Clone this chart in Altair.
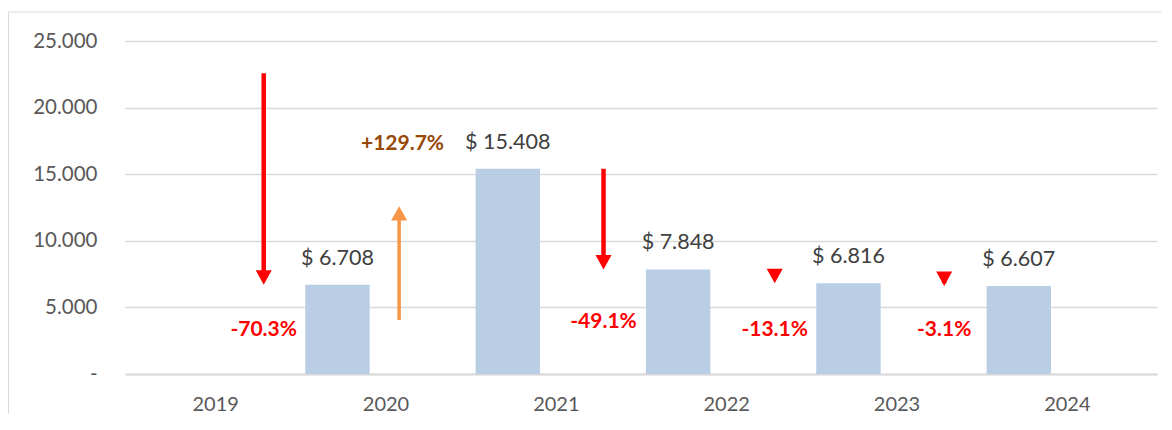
import altair as alt
import pandas as pd

# ---------------- data ----------------
years = [2019, 2020, 2021, 2022, 2023, 2024]
bar_years = [2020, 2021, 2022, 2023, 2024]
bar_values = [6708, 15408, 7848, 6816, 6607]
value_labels = ["$ 6.708", "$ 15.408", "$ 7.848", "$ 6.816", "$ 6.607"]

arrow_x = [2019.285, 2020.08, 2021.28, 2022.285, 2023.28]
arrow_from = [22586, 4050, 15408, 7848, 6816]
arrow_to = [6708, 12600, 7848, 6816, 6607]
arrow_dir = ["down", "up", "down", "down", "down"]

pct_labels = ["-70.3%", "+129.7%", "-49.1%", "-13.1%", "-3.1%"]
pct_x = [2019.285, 2020.1, 2021.28, 2022.285, 2023.28]
pct_y = [3340, 17270, 3870, 3340, 3270]

y_ticks = [0, 5000, 10000, 15000, 20000, 25000]

# ---------------- layout constants ----------------
W, H = 1032, 333
PAD = {"left": 117, "top": 33, "right": 4, "bottom": 40}
BAR_SHIFT = 0.282
BAR_HALF = 0.189
FONT = "Lato"
GRID = "#D9D9D9"

X_SCALE = alt.Scale(domain=[2018.5, 2024.5], nice=False, zero=False)
Y_SCALE = alt.Scale(domain=[0, 25000], nice=False)

x_axis = alt.Axis(values=years, format="d", title=None, labelFont=FONT,
                  labelFontSize=20, labelColor="#595959", ticks=False,
                  grid=False, domainColor=GRID, domainWidth=2, labelPadding=20)
y_axis = alt.Axis(values=y_ticks, title=None, labelFont=FONT, labelFontSize=20.5,
                  labelColor="#595959", ticks=False, domain=False, grid=True,
                  gridColor=GRID, gridWidth=1.5, labelPadding=28,
                  labelExpr="datum.value == 0 ? '-\u00a0\u00a0\u00a0\u00a0\u00a0' : replace(format(datum.value, ','), ',', '.')")

df_bars = pd.DataFrame({"year": bar_years, "value": bar_values, "label": value_labels})
df_bars["base"] = 0
df_bars["x0"] = df_bars["year"] - BAR_SHIFT - BAR_HALF
df_bars["x1"] = df_bars["year"] - BAR_SHIFT + BAR_HALF
df_bars["xc"] = df_bars["year"] - BAR_SHIFT

df_arrows = pd.DataFrame({"x": arrow_x, "start": arrow_from, "end": arrow_to, "dir": arrow_dir})
down = df_arrows[df_arrows["dir"] == "down"]
up = df_arrows[df_arrows["dir"] == "up"]

df_pct = pd.DataFrame({"x": pct_x, "y": pct_y, "label": pct_labels, "dir": arrow_dir})
pct_down = df_pct[df_pct["dir"] == "down"]
pct_up = df_pct[df_pct["dir"] == "up"]

def xq(f):
    return alt.X(f, type="quantitative", scale=X_SCALE, axis=x_axis)

def yq(f):
    return alt.Y(f, type="quantitative", scale=Y_SCALE, axis=y_axis)

bars = alt.Chart(df_bars).mark_bar(color="#B9CDE5", orient="vertical").encode(
    x=xq("x0"), x2="x1:Q",
    y=yq("value"), y2="base:Q",
)

value_text = alt.Chart(df_bars).mark_text(
    font=FONT, fontSize=21.5, color="#404040", dy=-26, baseline="middle"
).encode(x=xq("xc"), y=yq("value"), text="label:N")

RED = "#FF0000"
ORANGE = "#F79646"
BROWN = "#984807"

shaft_down = alt.Chart(down).mark_rule(color=RED, strokeWidth=4.5, strokeCap="butt",
                                       y2Offset=-10).encode(
    x=xq("x"), y=yq("start"), y2="end:Q")
head_down = alt.Chart(down).mark_point(shape="M-1,-0.9L1,-0.9L0,0.9Z", size=256,
                                       filled=True, color=RED, opacity=1,
                                       yOffset=-7.2).encode(
    x=xq("x"), y=yq("end"))

shaft_up = alt.Chart(up).mark_rule(color=ORANGE, strokeWidth=3.5, strokeCap="butt",
                                   y2Offset=10).encode(
    x=xq("x"), y=yq("start"), y2="end:Q")
head_up = alt.Chart(up).mark_point(shape="M-1,0.9L1,0.9L0,-0.9Z", size=256,
                                   filled=True, color=ORANGE, opacity=1,
                                   yOffset=7.2).encode(
    x=xq("x"), y=yq("end"))

pct_text_down = alt.Chart(pct_down).mark_text(
    font=FONT, fontSize=21, fontWeight="bold", color=RED, baseline="middle"
).encode(x=xq("x"), y=yq("y"), text="label:N")
pct_text_up = alt.Chart(pct_up).mark_text(
    font=FONT, fontSize=21, fontWeight="bold", color=BROWN, baseline="middle"
).encode(x=xq("x"), y=yq("y"), text="label:N")

# chart-area border (decoration)
one = pd.DataFrame({"k": [0]})
border_left = alt.Chart(one).mark_rule(color=GRID, strokeWidth=1).encode(
    x=alt.value(-PAD["left"] + 0.5), y=alt.value(-29), y2=alt.value(H + PAD["bottom"]))
border_top = alt.Chart(one).mark_rule(color=GRID, strokeWidth=1).encode(
    x=alt.value(-PAD["left"] + 0.5), x2=alt.value(W + PAD["right"]), y=alt.value(-29))

chart = alt.layer(
    bars, value_text, shaft_down, head_down, shaft_up, head_up,
    pct_text_down, pct_text_up, border_left, border_top
).properties(
    width=W, height=H,
    autosize=alt.AutoSizeParams(type="none"),
    padding=PAD,
    background="white",
).configure_view(stroke=None)

chart.save("out.html", embed_options={"renderer": "svg", "actions": False})
